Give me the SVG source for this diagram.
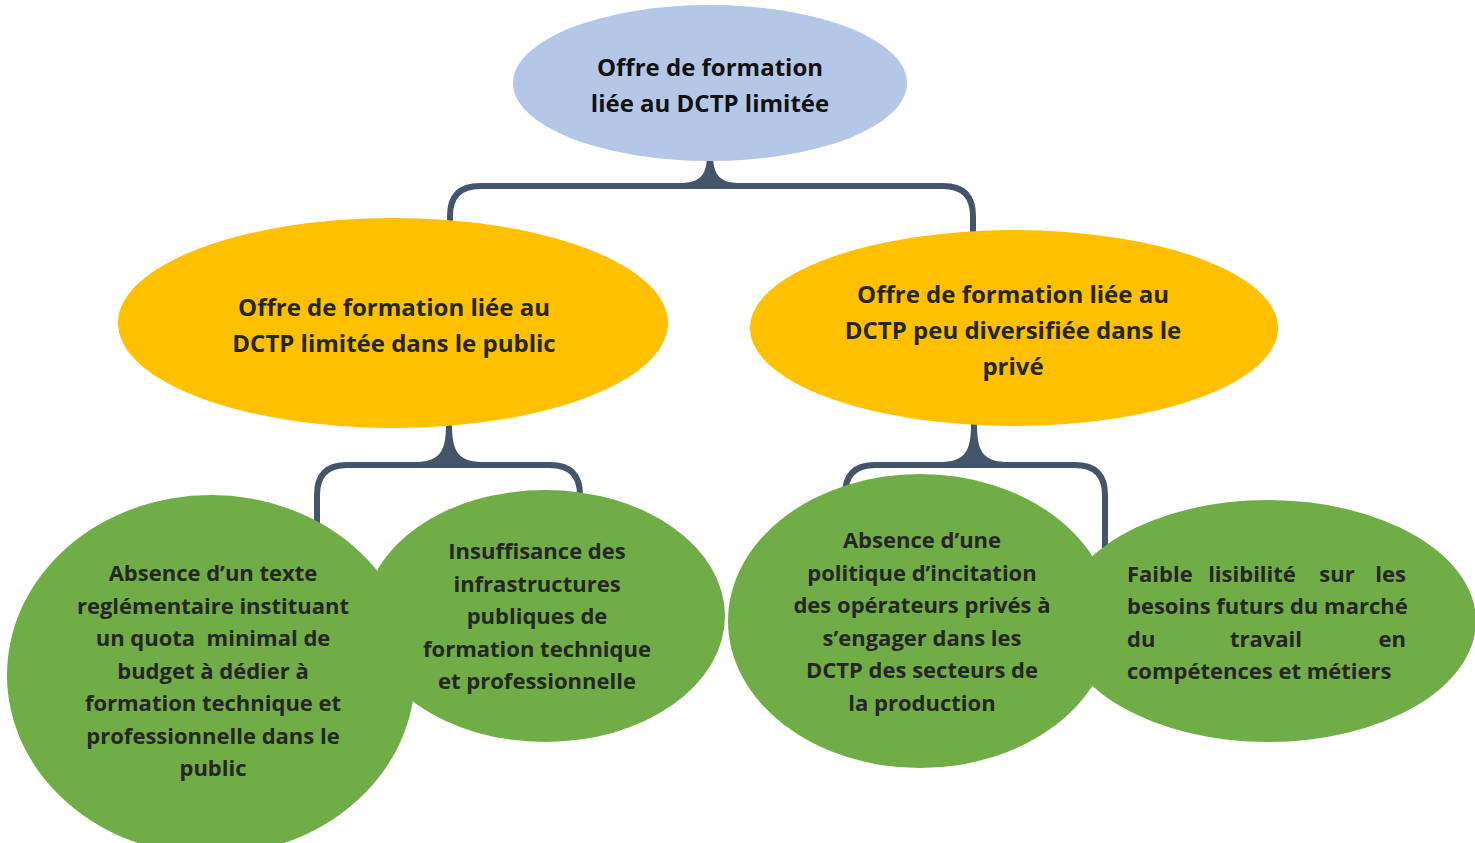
<svg xmlns="http://www.w3.org/2000/svg" width="1475" height="843" viewBox="0 0 1475 843">
  <style>
    .root { fill: #B4C7E7; }
    .mid { fill: #FFC000; }
    .leaf { fill: #70AD47; }
    .brace { fill: none; stroke: #44546A; stroke-width: 6; stroke-linecap: butt; }
    .tip { fill: #44546A; }
    text { font-family: "Open Sans", Lato, "Liberation Sans", sans-serif; font-weight: 700; fill: #262626; white-space: pre; }
    .t1 { font-size: 24px; text-anchor: middle; fill: #111111; }
    .t2 { font-size: 24px; text-anchor: middle; }
    .t3 { font-size: 22px; text-anchor: middle; }
    .t4 { font-size: 22px; }
  </style>

  <!-- connectors (brackets) -->
  <g id="connectors">
    <path class="brace" d="M450,240 V216 Q450,186 480,186 H690 M730,186 H943 Q973,186 973,216 V240"/>
    <path class="tip" d="M680,183 C700,183 706,175 707,158 H713 C714,175 720,183 740,183 V189 H680 Z"/>

    <path class="brace" d="M317,540 V495 Q317,465 347,465 H430 M468,465 H550 Q580,465 580,495 V520"/>
    <path class="tip" d="M414,462 C440,462 446,452 446,424 H452 C452,452 458,462 484,462 V468 H414 Z"/>

    <path class="brace" d="M845,520 V495 Q845,465 875,465 H955 M993,465 H1075 Q1105,465 1105,495 V560"/>
    <path class="tip" d="M939,462 C965,462 971,452 971,424 H977 C977,452 983,462 1009,462 V468 H939 Z"/>
  </g>

  <g id="node-root">
    <ellipse class="root" cx="710" cy="83" rx="197" ry="78"/>
    <text class="t1" x="710" y="76">Offre de formation</text>
    <text class="t1" x="710" y="112">liée au DCTP limitée</text>
  </g>

  <g id="node-public">
    <ellipse class="mid" cx="393" cy="323" rx="275" ry="105"/>
    <text class="t2" x="394" y="316">Offre de formation liée au</text>
    <text class="t2" x="394" y="352">DCTP limitée dans le public</text>
  </g>

  <g id="node-prive">
    <ellipse class="mid" cx="1014" cy="328" rx="264" ry="98"/>
    <text class="t2" x="1013" y="303">Offre de formation liée au</text>
    <text class="t2" x="1013" y="339">DCTP peu diversifiée dans le</text>
    <text class="t2" x="1013" y="375">privé</text>
  </g>

  <g id="node-infrastructures">
    <ellipse class="leaf" cx="545" cy="616" rx="180" ry="126"/>
    <text class="t3" x="537" y="559">Insuffisance des</text>
    <text class="t3" x="537" y="592">infrastructures</text>
    <text class="t3" x="537" y="624">publiques de</text>
    <text class="t3" x="537" y="657">formation technique</text>
    <text class="t3" x="537" y="689">et professionnelle</text>
  </g>

  <g id="node-quota">
    <ellipse class="leaf" cx="211" cy="675" rx="204" ry="180"/>
    <text class="t3" x="213" y="581">Absence d’un texte</text>
    <text class="t3" x="213" y="614">reglémentaire instituant</text>
    <text class="t3" x="213" y="646">un quota  minimal de</text>
    <text class="t3" x="213" y="679">budget à dédier à</text>
    <text class="t3" x="213" y="711">formation technique et</text>
    <text class="t3" x="213" y="744">professionnelle dans le</text>
    <text class="t3" x="213" y="776">public</text>
  </g>

  <g id="node-marche">
    <ellipse class="leaf" cx="1268" cy="621" rx="208" ry="121"/>
    <text class="t4" x="1127" y="582">Faible</text>
    <text class="t4" x="1252" y="582" text-anchor="middle">lisibilité</text>
    <text class="t4" x="1337" y="582" text-anchor="middle">sur</text>
    <text class="t4" x="1406" y="582" text-anchor="end">les</text>
    <text class="t4" x="1127" y="614">besoins futurs du marché</text>
    <text class="t4" x="1127" y="647">du</text>
    <text class="t4" x="1266" y="647" text-anchor="middle">travail</text>
    <text class="t4" x="1406" y="647" text-anchor="end">en</text>
    <text class="t4" x="1127" y="679">compétences et métiers</text>
  </g>

  <g id="node-incitation">
    <ellipse class="leaf" cx="920" cy="621" rx="192" ry="147"/>
    <text class="t3" x="922" y="548">Absence d’une</text>
    <text class="t3" x="922" y="581">politique d’incitation</text>
    <text class="t3" x="922" y="613">des opérateurs privés à</text>
    <text class="t3" x="922" y="646">s’engager dans les</text>
    <text class="t3" x="922" y="678">DCTP des secteurs de</text>
    <text class="t3" x="922" y="711">la production</text>
  </g>
</svg>
